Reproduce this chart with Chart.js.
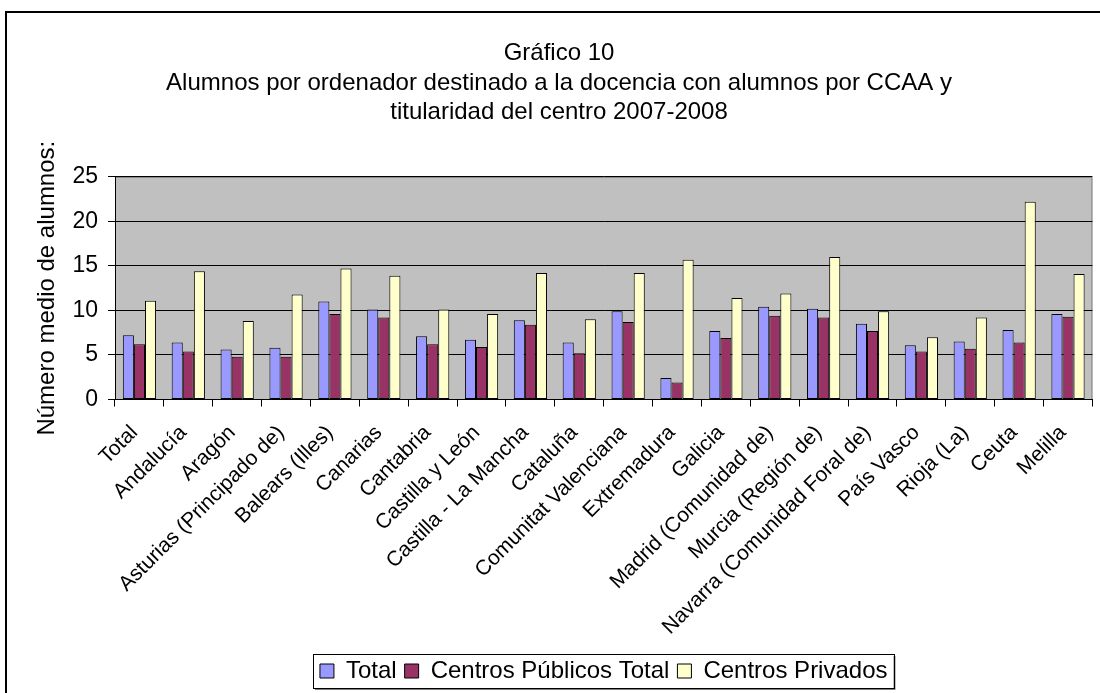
<!DOCTYPE html>
<html>
<head>
<meta charset="utf-8">
<script src="https://cdn.jsdelivr.net/npm/chart.js@4"></script>
<style>
  html, body { margin: 0; padding: 0; background: #fff; }
</style>
</head>
<body>
<canvas id="myChart" width="1100" height="693"></canvas>
<script>
// Alumnos por ordenador, por comunidad autónoma y titularidad (curso 2007-2008)

const regions = [
  "Total", "Andalucía", "Aragón", "Asturias (Principado de)", "Balears (Illes)",
  "Canarias", "Cantabria", "Castilla y León", "Castilla - La Mancha", "Cataluña",
  "Comunitat Valenciana", "Extremadura", "Galicia", "Madrid (Comunidad de)",
  "Murcia (Región de)", "Navarra (Comunidad Foral de)", "País Vasco", "Rioja (La)",
  "Ceuta", "Melilla"
];

const totalValues = [7.2, 6.4, 5.6, 5.8, 11.0, 10.1, 7.1, 6.7, 8.9, 6.4, 9.9, 2.4, 7.7, 10.4, 10.2, 8.5, 6.1, 6.5, 7.8, 9.6];
const publicValues = [6.2, 5.4, 4.8, 4.8, 9.6, 9.2, 6.2, 5.9, 8.4, 5.2, 8.7, 1.9, 6.9, 9.4, 9.2, 7.7, 5.4, 5.7, 6.4, 9.3];
const privateValues = [11.1, 14.4, 8.8, 11.8, 14.7, 13.9, 10.1, 9.6, 14.2, 9.0, 14.2, 15.7, 11.4, 11.9, 16.0, 9.9, 7.0, 9.2, 22.2, 14.1];

const yMin = 0;
const yMax = 25;
const yStep = 5;

const titleLines = [
  "Gráfico 10",
  "Alumnos por ordenador destinado a la docencia con alumnos por CCAA y",
  "titularidad del centro 2007-2008"
];
const yTitle = "Número medio de alumnos:";

const FONT = "'Liberation Sans', Arial, Helvetica, sans-serif";

// gray plot area + outer frame
const plotBackground = {
  id: "plotBackground",
  beforeDraw(chart) {
    const {ctx, chartArea} = chart;
    ctx.save();
    ctx.fillStyle = "#c0c0c0";
    ctx.fillRect(chartArea.left, chartArea.top, chartArea.right - chartArea.left, chartArea.bottom - chartArea.top);
    ctx.strokeStyle = "#808080";
    ctx.lineWidth = 1;
    ctx.beginPath();
    ctx.moveTo(chartArea.left, chartArea.top + 0.5);
    ctx.lineTo(chartArea.right - 0.5, chartArea.top + 0.5);
    ctx.lineTo(chartArea.right - 0.5, chartArea.bottom);
    ctx.stroke();
    ctx.fillStyle = "#000";
    ctx.fillRect(5, 11, 2, chart.height);
    ctx.fillRect(5, 11, chart.width, 2);
    ctx.restore();
  }
};

// box round the legend items
const legendFrame = {
  id: "legendFrame",
  afterDraw(chart) {
    const boxes = chart.legend && chart.legend.legendHitBoxes;
    if (!boxes || !boxes.length) return;
    const left = Math.min(...boxes.map(b => b.left)) - 7;
    const right = Math.max(...boxes.map(b => b.left + b.width)) + 6;
    const mid = boxes[0].top + boxes[0].height / 2;
    const top = Math.round(mid - 17);
    const bottom = Math.round(mid + 17);
    const ctx = chart.ctx;
    ctx.save();
    ctx.strokeStyle = "#808080";
    ctx.lineWidth = 2;
    ctx.beginPath();
    ctx.moveTo(right + 1, top + 2);
    ctx.lineTo(right + 1, bottom + 1);
    ctx.lineTo(left + 2, bottom + 1);
    ctx.stroke();
    ctx.strokeStyle = "#000";
    ctx.lineWidth = 1;
    ctx.strokeRect(Math.round(left) + 0.5, top + 0.5, Math.round(right - left), bottom - top);
    ctx.restore();
  }
};

const data = {
  labels: regions,
  datasets: [
    { label: "Total", data: totalValues, backgroundColor: "#9999ff" },
    { label: "Centros Públicos Total", data: publicValues, backgroundColor: "#993366" },
    { label: "Centros Privados", data: privateValues, backgroundColor: "#ffffcc" }
  ].map(ds => Object.assign(ds, {
    borderColor: "#000",
    borderWidth: 1,
    borderSkipped: false,
    categoryPercentage: 0.68,
    barPercentage: 1.0
  }))
};

const config = {
  type: "bar",
  data: data,
  options: {
    responsive: false,
    animation: false,
    layout: { padding: { left: 25, right: 7, top: 0, bottom: 0 } },
    plugins: {
      title: {
        display: true,
        text: titleLines,
        color: "#000",
        font: { family: FONT, size: 24, weight: "normal", lineHeight: 1.22 },
        padding: { top: 39, bottom: 50 }
      },
      legend: {
        position: "bottom",
        fullSize: false,
        labels: {
          color: "#000",
          font: { family: FONT, size: 24 },
          boxWidth: 14,
          boxHeight: 14,
          padding: 8
        }
      },
      tooltip: { enabled: false }
    },
    scales: {
      x: {
        grid: {
          display: true,
          drawOnChartArea: false,
          drawTicks: true,
          tickLength: 7,
          color: "#000",
          offset: true
        },
        border: { display: true, color: "#000", width: 1 },
        ticks: {
          autoSkip: false,
          minRotation: 45,
          maxRotation: 45,
          padding: 14,
          labelOffset: -5,
          color: "#000",
          font: { family: FONT, size: 21 }
        },
        afterFit(scale) { scale.height = 251.5; }
      },
      y: {
        min: yMin,
        max: yMax,
        ticks: {
          stepSize: yStep,
          padding: 10,
          color: "#000",
          font: { family: FONT, size: 23 }
        },
        grid: { color: "#000", tickLength: 7, drawTicks: true },
        border: { display: true, color: "#000", width: 1 },
        title: {
          display: true,
          text: yTitle,
          color: "#000",
          font: { family: FONT, size: 24 },
          padding: { top: 8, bottom: 0 }
        },
        afterFit(scale) { scale.width = 90; }
      }
    }
  },
  plugins: [plotBackground, legendFrame]
};

const myChart = new Chart(document.getElementById("myChart"), config);
</script>
</body>
</html>
